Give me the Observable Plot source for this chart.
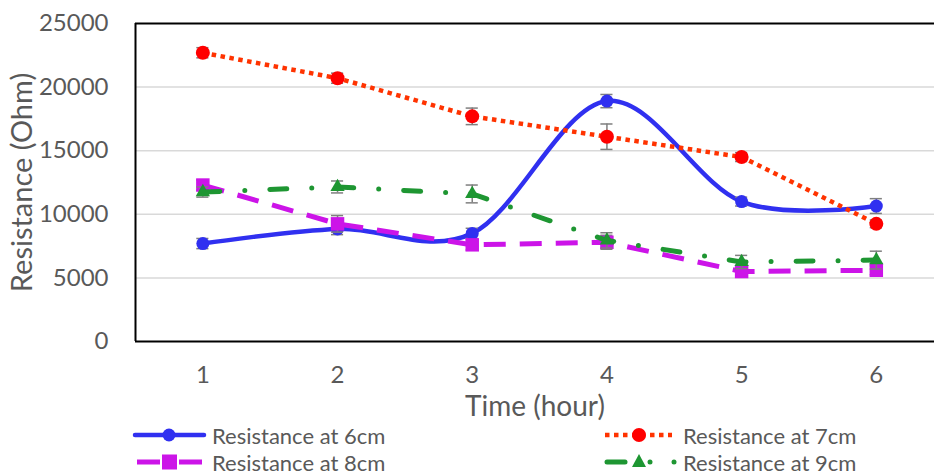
<!DOCTYPE html>
<html>
<head>
<meta charset="utf-8">
<script src="https://cdn.jsdelivr.net/npm/d3@7"></script>
<script src="https://cdn.jsdelivr.net/npm/@observablehq/plot@0.6"></script>
<style>
  html, body { margin: 0; padding: 0; background: #fff; }
  #wrap { position: relative; width: 934px; height: 475px; overflow: hidden; font-family: Lato, "Open Sans", sans-serif; }
  #legend { position: absolute; left: 0; top: 422px; width: 934px; height: 53px; }
</style>
</head>
<body>
<div id="wrap"></div>
<script>
// ---- data ----
const hours = [1, 2, 3, 4, 5, 6];
const yTicks = [0, 5000, 10000, 15000, 20000, 25000];
const seriesNames = ["Resistance at 6cm", "Resistance at 7cm", "Resistance at 8cm", "Resistance at 9cm"];
const r6 = [7700, 8850, 8500, 18900, 11000, 10650];
const e6 = [400, 450, 400, 520, 350, 580];
const r7 = [22700, 20700, 17700, 16100, 14500, 9250];
const e7 = [400, 400, 650, 1000, 350, 300];
const r8 = [12300, 9250, 7600, 7800, 5500, 5600];
const e8 = [400, 650, 400, 550, 350, 350];
const r9 = [11750, 12150, 11600, 7950, 6250, 6400];
const e9 = [400, 470, 700, 600, 520, 700];

const colors = { c6: "#3030F0", c7line: "#FF3300", c7: "#FF0000", c8: "#CC14E8", c9: "#1E9632" };
const errColor = "#7F7F7F";
const capHalf = 0.045; // half width of error-bar caps, in x units

const table = (vals, errs) => hours.map((h, i) => ({ h, v: vals[i], e: errs[i] }));
const d6 = table(r6, e6), d7 = table(r7, e7), d8 = table(r8, e8), d9 = table(r9, e9);

function errMarks(d) {
  return [
    Plot.ruleX(d, { x: "h", y1: (p) => p.v - p.e, y2: (p) => p.v + p.e, stroke: errColor, strokeWidth: 1.5 }),
    Plot.ruleY(d, { y: (p) => p.v - p.e, x1: (p) => p.h - capHalf, x2: (p) => p.h + capHalf, stroke: errColor, strokeWidth: 1.5 }),
    Plot.ruleY(d, { y: (p) => p.v + p.e, x1: (p) => p.h - capHalf, x2: (p) => p.h + capHalf, stroke: errColor, strokeWidth: 1.5 })
  ];
}

const chart = Plot.plot({
  width: 934,
  height: 422,
  marginLeft: 135,
  marginRight: 0,
  marginTop: 23,
  marginBottom: 81,
  style: { fontFamily: "Lato, 'Open Sans', sans-serif", fontSize: "24px", color: "#595959", background: "#fff", overflow: "visible" },
  x: { type: "linear", domain: [0.5, 6.432] },
  y: { domain: [0, 25000] },
  marks: [
    Plot.gridY(yTicks.filter((t) => t > 0 && t < 25000), { stroke: "#D9D9D9", strokeOpacity: 1, strokeWidth: 1.5 }),
    Plot.axisY(yTicks, { tickSize: 0, tickPadding: 27, tickFormat: (d) => String(d), label: null, fontSize: 24 }),
    Plot.axisX(hours, { tickSize: 0, tickPadding: 24, tickFormat: (d) => String(d), label: null, fontSize: 24 }),
    Plot.ruleX([0.5], { stroke: "#000", strokeWidth: 2 }),
    Plot.ruleY([0, 25000], { stroke: "#000", strokeWidth: 2 }),
    Plot.text(["Time (hour)"], { frameAnchor: "bottom", dy: 66, fontSize: 28, fill: "#595959", lineAnchor: "middle", textAnchor: "middle" }),
    Plot.text(["Resistance (Ohm)"], { frameAnchor: "left", dx: -113, rotate: -90, fontSize: 29, fill: "#595959", lineAnchor: "middle", textAnchor: "middle" }),

    // 6 cm
    Plot.line(d6, { x: "h", y: "v", stroke: colors.c6, strokeWidth: 4.5, curve: "cardinal" }),
    ...errMarks(d6),
    Plot.dot(d6, { x: "h", y: "v", r: 6.5, fill: colors.c6, stroke: null }),

    // 7 cm
    Plot.line(d7, { x: "h", y: "v", stroke: colors.c7line, strokeWidth: 4.5, strokeDasharray: "4.5,4.5", strokeLinecap: "butt" }),
    ...errMarks(d7),
    Plot.dot(d7, { x: "h", y: "v", r: 7, fill: colors.c7, stroke: null }),

    // 8 cm
    Plot.line(d8, { x: "h", y: "v", stroke: colors.c8, strokeWidth: 5, strokeDasharray: "22,14", strokeLinecap: "butt" }),
    ...errMarks(d8),
    Plot.dot(d8, { x: "h", y: "v", r: 7.6, symbol: "square", fill: colors.c8, stroke: null }),

    // 9 cm
    Plot.line(d9, { x: "h", y: "v", stroke: colors.c9, strokeWidth: 5, strokeDasharray: "17,25,0,25", strokeLinecap: "round" }),
    ...errMarks(d9),
    Plot.dot(d9, { x: "h", y: "v", r: 5.3, symbol: "triangle", fill: colors.c9, stroke: null })
  ]
});

const wrap = document.getElementById("wrap");
wrap.appendChild(chart);

// ---- legend (below the SVG) ----
const ns = "http://www.w3.org/2000/svg";
const leg = document.createElementNS(ns, "svg");
leg.setAttribute("id", "legend");
leg.setAttribute("width", 934);
leg.setAttribute("height", 53);
function el(tag, attrs, parent = leg) {
  const e = document.createElementNS(ns, tag);
  for (const k in attrs) e.setAttribute(k, attrs[k]);
  parent.appendChild(e);
  return e;
}
const row1 = 13, row2 = 40;
// 6cm
el("line", { x1: 135, x2: 204, y1: row1, y2: row1, stroke: colors.c6, "stroke-width": 4.5, "stroke-linecap": "round" });
el("circle", { cx: 169, cy: row1, r: 6.5, fill: colors.c6 });
// 8cm
el("line", { x1: 137, x2: 202, y1: row2, y2: row2, stroke: colors.c8, "stroke-width": 5, "stroke-dasharray": "23,19,23" });
el("rect", { x: 162, y: row2 - 7.5, width: 15, height: 15, fill: colors.c8 });
// 7cm
el("line", { x1: 605, x2: 672, y1: row1, y2: row1, stroke: colors.c7line, "stroke-width": 4.5, "stroke-dasharray": "4.5,4.5" });
el("circle", { cx: 639, cy: row1, r: 7, fill: colors.c7 });
// 9cm
el("line", { x1: 607, x2: 625, y1: row2, y2: row2, stroke: colors.c9, "stroke-width": 5, "stroke-linecap": "round" });
el("path", { d: `M639,${row2 - 8} L646,${row2 + 5} L632,${row2 + 5} Z`, fill: colors.c9 });
el("circle", { cx: 650, cy: row2, r: 2.5, fill: colors.c9 });
el("circle", { cx: 674, cy: row2, r: 2.5, fill: colors.c9 });

const labelPos = [[212, row1], [683, row1], [212, row2], [683, row2]];
seriesNames.forEach((name, i) => {
  const t = el("text", { x: labelPos[i][0], y: labelPos[i][1], "dominant-baseline": "central", fill: "#595959", "font-size": 22, "font-family": "Lato, 'Open Sans', sans-serif" });
  t.textContent = name;
});
wrap.appendChild(leg);
</script>
</body>
</html>
